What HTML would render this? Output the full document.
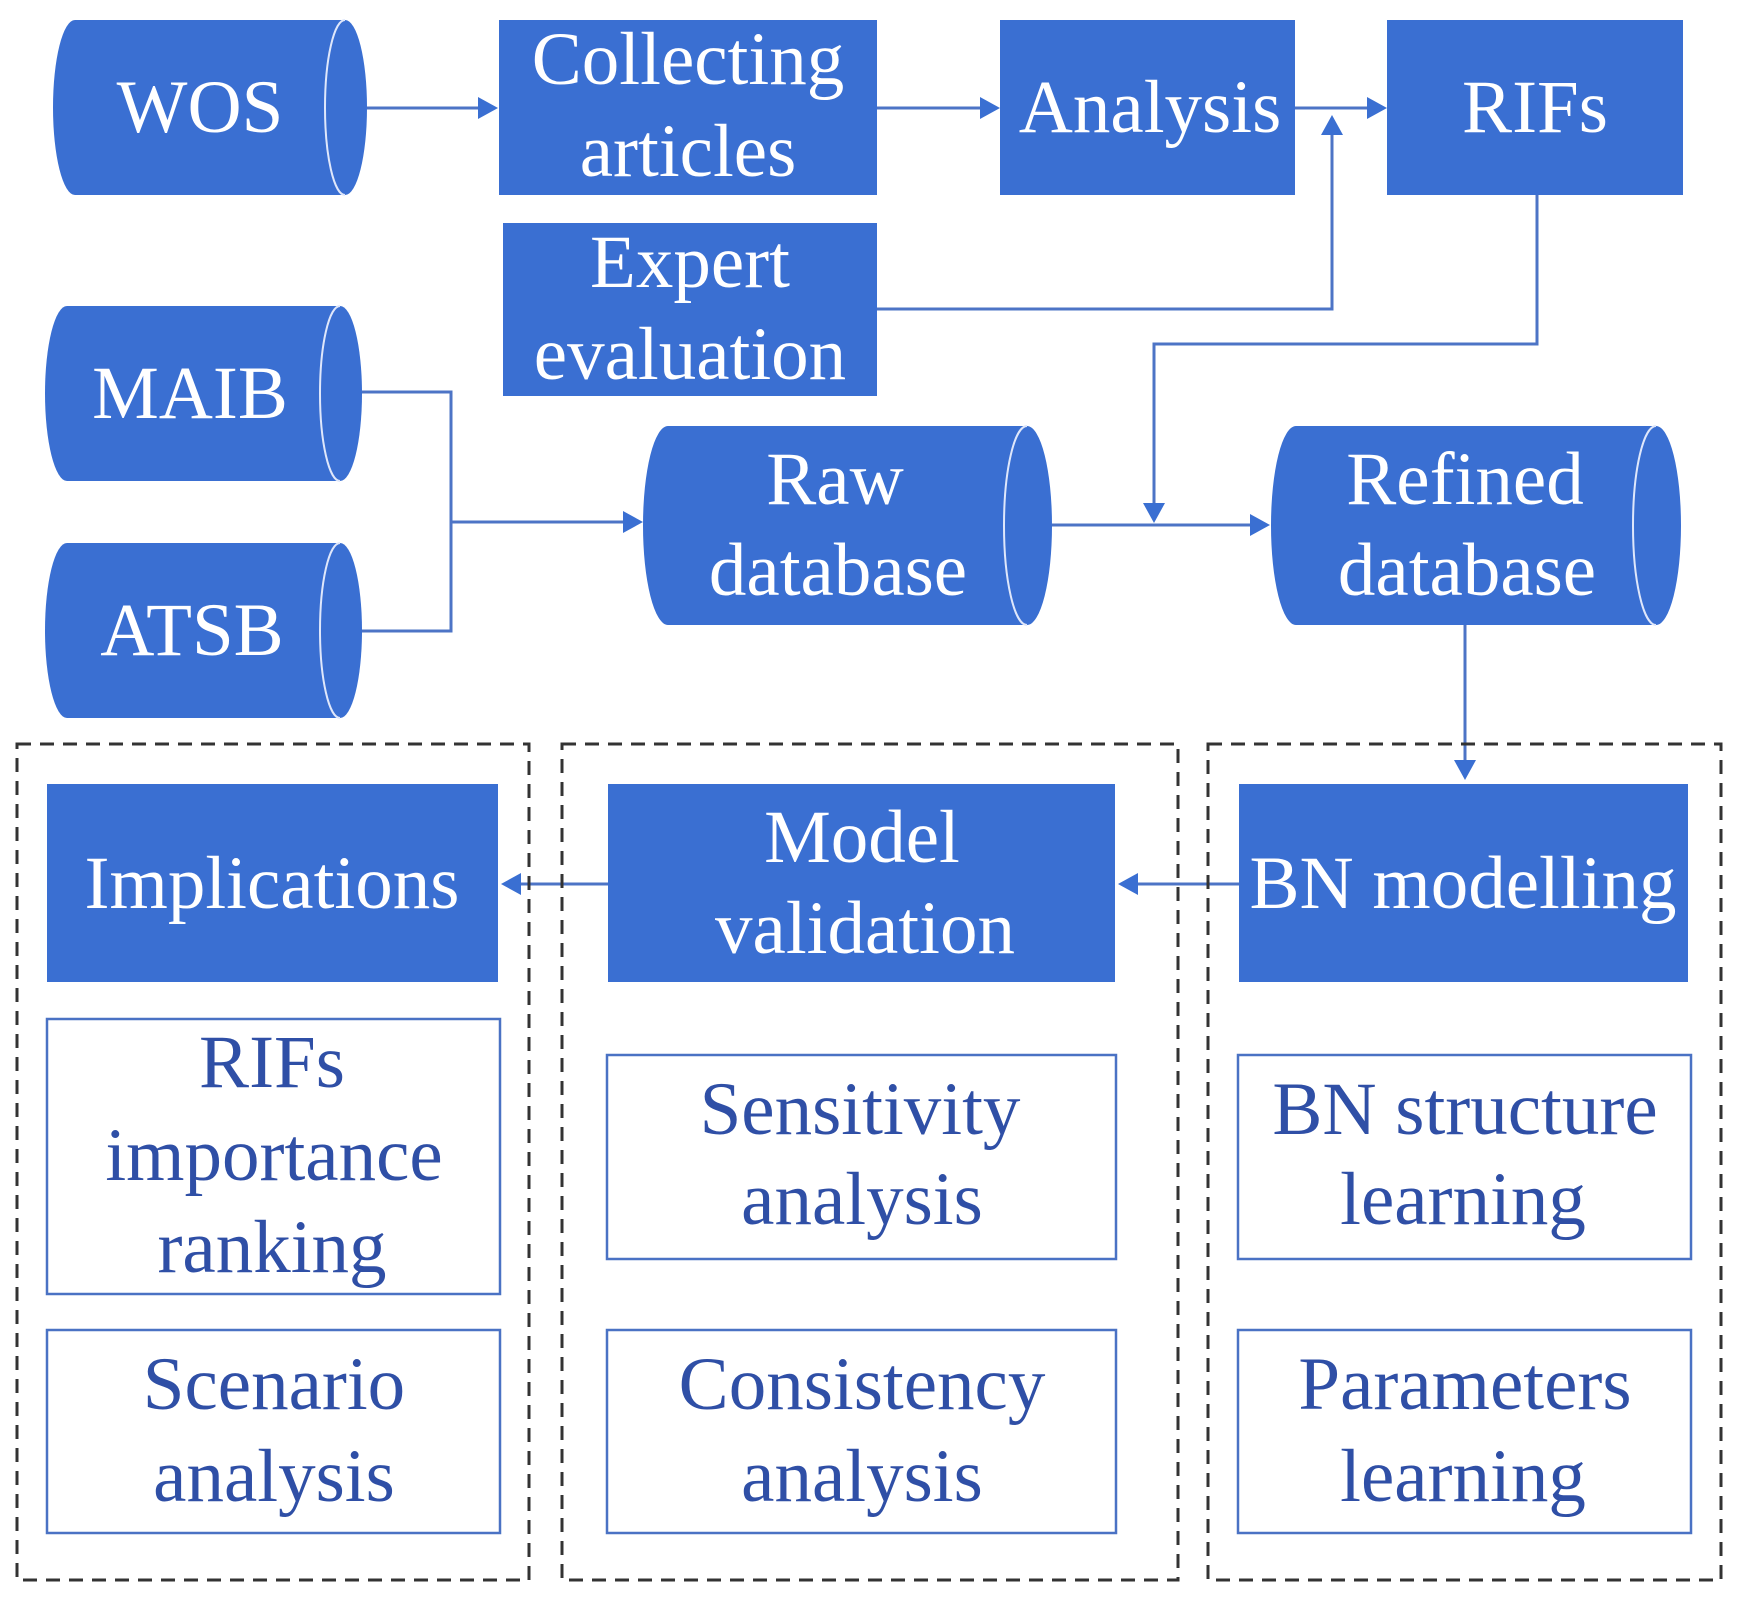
<!DOCTYPE html>
<html><head><meta charset="utf-8"><style>
html,body{margin:0;padding:0;background:#fff}
svg{display:block}
text{font-family:"Liberation Serif",serif;text-anchor:middle}
.w{fill:#fff;font-size:75px}
.b{fill:#2f4fa6;font-size:75px}
.n{fill:#3a6fd2}
.o{fill:#fff;stroke:#4a72c4;stroke-width:2.5}
.l{stroke:#4d74c6;stroke-width:3;fill:none}
.a{fill:#3a6fd2}
.d{fill:none;stroke:#333;stroke-width:3;stroke-dasharray:14 9}
</style></head><body>
<svg width="1738" height="1600" viewBox="0 0 1738 1600" xmlns="http://www.w3.org/2000/svg">
<path class="l" d="M367 108 H480"/><polygon class="a" points="498,108 478,97 478,119"/>
<path class="l" d="M877 108 H982"/><polygon class="a" points="1000,108 980,97 980,119"/>
<path class="l" d="M1295 108 H1370"/><polygon class="a" points="1387,108 1367,97 1367,119"/>
<path class="l" d="M877 309 H1332 V132"/><polygon class="a" points="1332,115 1321,135 1343,135"/>
<path class="l" d="M1537 195 V344 H1154 V505"/><polygon class="a" points="1154,523 1143,503 1165,503"/>
<path class="l" d="M1052 525 H1252"/><polygon class="a" points="1270,525 1250,514 1250,536"/>
<path class="l" d="M362 392 H451 V631 H362"/><path class="l" d="M451 522 H625"/><polygon class="a" points="643,522 623,511 623,533"/>
<path class="l" d="M1465 625 V760"/><polygon class="a" points="1465,780 1454,760 1476,760"/>
<path class="l" d="M1239 884 H1136"/><polygon class="a" points="1118,884 1138,873 1138,895"/>
<path class="l" d="M608 884 H519"/><polygon class="a" points="501,884 521,873 521,895"/>
<rect class="d" x="17" y="744" width="512" height="836"/>
<rect class="d" x="562" y="744" width="616" height="836"/>
<rect class="d" x="1208" y="744" width="513" height="836"/>
<g>
<path class="n" d="M75 20 H345 A22 87.5 0 0 1 345 195 H75 A22 87.5 0 0 1 75 20 Z"/>
<path d="M345 20 A20 87.5 0 0 0 345 195" stroke="#dfe7fb" stroke-width="2" fill="none"/>
<text class="w" x="200" y="132">WOS</text>
</g>
<g>
<path class="n" d="M67 306 H340 A22 87.5 0 0 1 340 481 H67 A22 87.5 0 0 1 67 306 Z"/>
<path d="M340 306 A20 87.5 0 0 0 340 481" stroke="#dfe7fb" stroke-width="2" fill="none"/>
<text class="w" x="190" y="418">MAIB</text>
</g>
<g>
<path class="n" d="M67 543 H340 A22 87.5 0 0 1 340 718 H67 A22 87.5 0 0 1 67 543 Z"/>
<path d="M340 543 A20 87.5 0 0 0 340 718" stroke="#dfe7fb" stroke-width="2" fill="none"/>
<text class="w" x="192" y="655">ATSB</text>
</g>
<g>
<path class="n" d="M668 426 H1027 A25 99.5 0 0 1 1027 625 H668 A25 99.5 0 0 1 668 426 Z"/>
<path d="M1027 426 A23 99.5 0 0 0 1027 625" stroke="#dfe7fb" stroke-width="2" fill="none"/>
<text class="w" x="835" y="504">Raw</text><text class="w" x="838" y="595">database</text>
</g>
<g>
<path class="n" d="M1296 426 H1656 A25 99.5 0 0 1 1656 625 H1296 A25 99.5 0 0 1 1296 426 Z"/>
<path d="M1656 426 A23 99.5 0 0 0 1656 625" stroke="#dfe7fb" stroke-width="2" fill="none"/>
<text class="w" x="1465" y="504">Refined</text><text class="w" x="1467" y="595">database</text>
</g>
<rect class="n" x="499" y="20" width="378" height="175"/>
<text class="w" x="688" y="84">Collecting</text><text class="w" x="688" y="176">articles</text>
<rect class="n" x="1000" y="20" width="295" height="175"/>
<text class="w" x="1150" y="132">Analysis</text>
<rect class="n" x="1387" y="20" width="296" height="175"/>
<text class="w" x="1535" y="132">RIFs</text>
<rect class="n" x="503" y="223" width="374" height="173"/>
<text class="w" x="690" y="287">Expert</text><text class="w" x="690" y="379">evaluation</text>
<rect class="n" x="47" y="784" width="451" height="198"/>
<text class="w" x="272" y="908">Implications</text>
<rect class="n" x="608" y="784" width="507" height="198"/>
<text class="w" x="862" y="862">Model</text><text class="w" x="865" y="953">validation</text>
<rect class="n" x="1239" y="784" width="449" height="198"/>
<text class="w" x="1463" y="908">BN modelling</text>
<rect class="o" x="47" y="1019" width="453" height="275"/>
<text class="b" x="272" y="1087">RIFs</text><text class="b" x="274" y="1180">importance</text><text class="b" x="272" y="1272">ranking</text>
<rect class="o" x="47" y="1330" width="453" height="203"/>
<text class="b" x="274" y="1409">Scenario</text><text class="b" x="274" y="1501">analysis</text>
<rect class="o" x="607" y="1055" width="509" height="204"/>
<text class="b" x="860" y="1134">Sensitivity</text><text class="b" x="862" y="1224">analysis</text>
<rect class="o" x="607" y="1330" width="509" height="203"/>
<text class="b" x="862" y="1409">Consistency</text><text class="b" x="862" y="1501">analysis</text>
<rect class="o" x="1238" y="1055" width="453" height="204"/>
<text class="b" x="1465" y="1134">BN structure</text><text class="b" x="1463" y="1224">learning</text>
<rect class="o" x="1238" y="1330" width="453" height="203"/>
<text class="b" x="1465" y="1409">Parameters</text><text class="b" x="1463" y="1501">learning</text>
</svg>
</body></html>
